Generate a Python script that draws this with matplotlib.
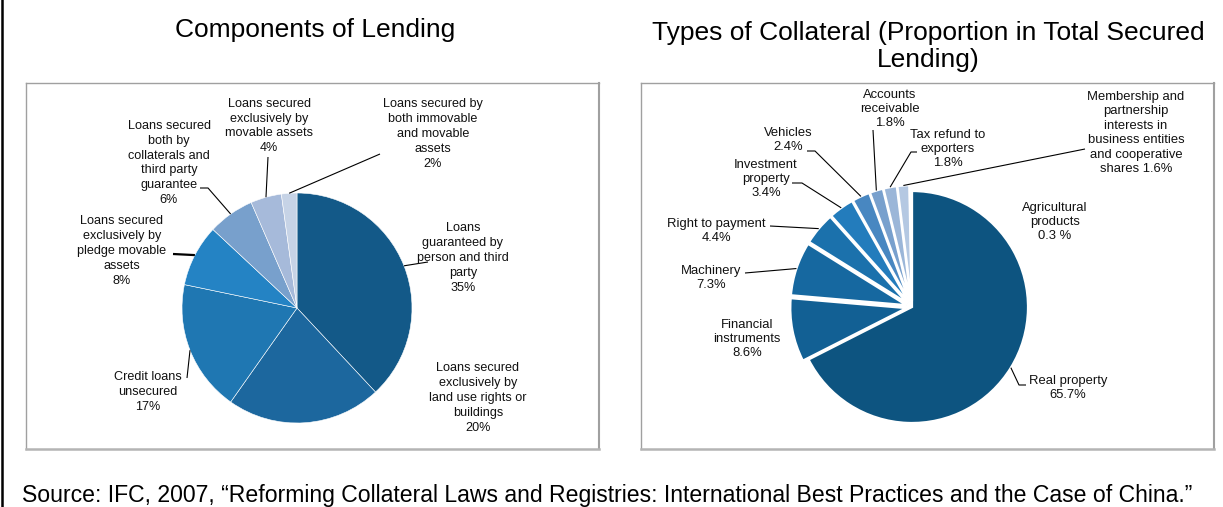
import numpy as np
import matplotlib
matplotlib.use("Agg")
import matplotlib.pyplot as plt
from matplotlib.lines import Line2D

plt.rcParams['font.family'] = ['Liberation Sans', 'DejaVu Sans']

W, H = 1223, 507

# --- data: components of lending (clockwise from top)
lend_labels = ["Loans\nguaranteed by\nperson and third\nparty\n35%",
               "Loans secured\nexclusively by\nland use rights or\nbuildings\n20%",
               "Credit loans\nunsecured\n17%",
               "Loans secured\nexclusively by\npledge movable\nassets\n8%",
               "Loans secured\nboth by\ncollaterals and\nthird party\nguarantee\n6%",
               "Loans secured\nexclusively by\nmovable assets\n4%",
               "Loans secured by\nboth immovable\nand movable\nassets\n2%"]
lend_share = [35, 20, 17, 8, 6, 4, 2]
lend_colors = ['#135988', '#1c679e', '#1f77b2', '#2483c4', '#78a0cc', '#a6bada', '#c6d3e6']

# --- data: types of collateral (clockwise from top)
coll_labels = ["Real property\n65.7%",
               "Financial\ninstruments\n8.6%",
               "Machinery\n7.3%",
               "Right to payment\n4.4%",
               "Investment\nproperty\n3.4%",
               "Vehicles\n2.4%",
               "Accounts\nreceivable\n1.8%",
               "Tax refund to\nexporters\n1.8%",
               "Membership and\npartnership\ninterests in\nbusiness entities\nand cooperative\nshares 1.6%",
               "Agricultural\nproducts\n0.3 %"]
coll_share = [65.7, 8.6, 7.3, 4.4, 3.4, 2.4, 1.8, 1.8, 1.6, 0.3]
coll_colors = ['#0d5480', '#126094', '#1668a0', '#1b71ac', '#237cbc',
               '#4887c1', '#78a0cd', '#9bb6d8', '#b4c8e2', '#c8d6ea']
coll_explode = [0] + [0.05] * 9

# label layout in pixels: text centre, leader points (text side first), line width
lend_layout = [((463, 258), [(428, 262)], 0.8),
               ((478, 398), None, 0.8),
               ((148, 392), [(187, 378)], 0.8),
               ((122, 251), [(173, 254)], 1.6),
               ((169, 163), [(200, 188), (208, 188)], 0.8),
               ((269, 126), [(268, 157)], 0.8),
               ((433, 134), [(380, 154)], 0.8)]

coll_layout = [((1068, 388), [(1026, 385), (1019, 385)], 0.8),
               ((747, 339), None, 0.8),
               ((711, 278), [(745, 273)], 0.8),
               ((716, 231), [(770, 226)], 0.8),
               ((766, 179), [(792, 183), (802, 183)], 0.8),
               ((788, 140), [(807, 151), (815, 151)], 0.8),
               ((890, 109), [(873, 130)], 0.8),
               ((948, 149), [(917, 152), (911, 152)], 0.8),
               ((1136, 133), [(1085, 149)], 0.8),
               ((1055, 222), None, 0.8)]


def make_pie(box, cx, cy, R, values, colors, explode, texts, layout, edge_lw, fs, lsp):
    x0, y0, x1, y1 = box
    ax = fig.add_axes([x0 / W, (H - y1) / H, (x1 - x0) / W, (y1 - y0) / H])
    wedges, _ = ax.pie(values, colors=colors, startangle=90, counterclock=False,
                       explode=explode, radius=1,
                       wedgeprops=dict(edgecolor='white', linewidth=edge_lw))
    ax.set_frame_on(True)
    ax.set_xlim((x0 - cx) / R, (x1 - cx) / R)
    ax.set_ylim((cy - y1) / R, (cy - y0) / R)
    ax.set_aspect('auto')
    ax.set_xticks([])
    ax.set_yticks([])
    for s in ax.spines.values():
        s.set_color('#a0a0a0')
        s.set_linewidth(1.0)
    ax.spines['bottom'].set_linewidth(1.8)
    ax.spines['bottom'].set_color('#b4b4b4')
    ax.spines['right'].set_linewidth(1.5)

    def d(p):
        return ((p[0] - cx) / R, (cy - p[1]) / R)

    for w, txt, (pos, pts, lw) in zip(wedges, texts, layout):
        ax.text(*d(pos), txt, ha='center', va='center', fontsize=fs,
                linespacing=lsp, color='#111111')
        if pts:
            th = np.deg2rad((w.theta1 + w.theta2) / 2)
            ex, ey = w.center
            end = (ex + w.r * np.cos(th), ey + w.r * np.sin(th))
            xs = [d(p)[0] for p in pts] + [end[0]]
            ys = [d(p)[1] for p in pts] + [end[1]]
            ax.plot(xs, ys, color='black', lw=lw, solid_capstyle='butt')
    return ax


fig = plt.figure(figsize=(W / 100, H / 100), dpi=100)

make_pie((26, 83, 599, 449), 297, 308, 115, lend_share, lend_colors,
         None, lend_labels, lend_layout, 0.4, 9.1, 1.32)
make_pie((641, 83, 1214, 449), 912, 307, 116, coll_share, coll_colors,
         coll_explode, coll_labels, coll_layout, 1.6, 9.4, 1.26)

fig.text(315 / W, 1 - 30 / H, "Components of Lending", ha='center', va='center',
         fontsize=19)
fig.text(928 / W, 1 - 46.5 / H, "Types of Collateral (Proportion in Total Secured\nLending)",
         ha='center', va='center', fontsize=19, linespacing=1.12)
fig.text(22 / W, (H - 502) / H,
         "Source: IFC, 2007, \u201cReforming Collateral Laws and Registries: International Best "
         "Practices and the Case of China.\u201d", ha='left', va='baseline', fontsize=16.6)

fig.add_artist(Line2D([1.5 / W, 1.5 / W], [0, 1], color='black', lw=1.8))

fig.savefig("out.png", dpi=100)
